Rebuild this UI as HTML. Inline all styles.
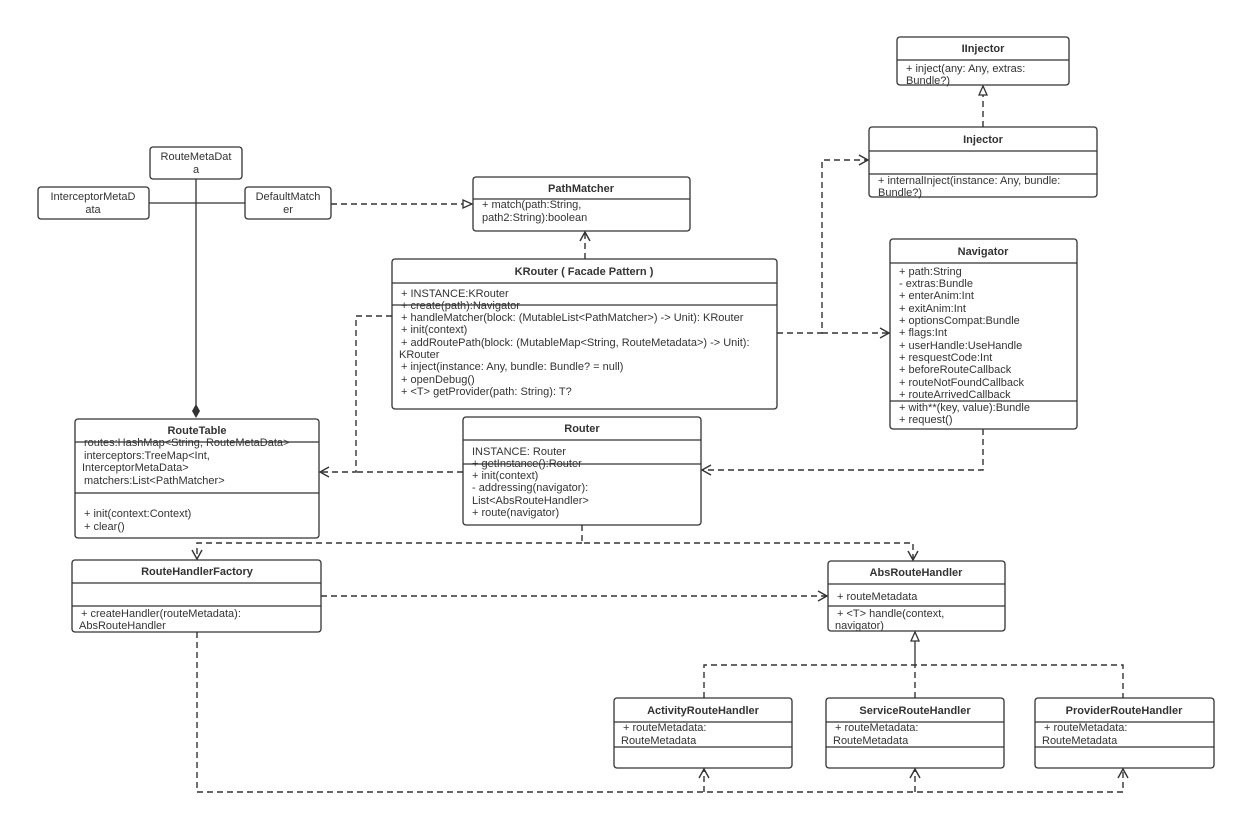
<!DOCTYPE html>
<html><head><meta charset="utf-8"><style>
body{margin:0;background:#fff}
svg{display:block}
text{font-family:"Liberation Sans",sans-serif;font-size:11px;fill:#333}
.b{font-weight:bold;font-size:11px}
.box{fill:#fff;stroke:#333;stroke-width:1.3}
.l{stroke:#333;stroke-width:1.3;fill:none}
.d{stroke:#333;stroke-width:1.4;fill:none;stroke-dasharray:6 4}
</style></head><body>
<svg width="1240" height="817" viewBox="0 0 1240 817">
<defs>
<marker id="o" markerWidth="12" markerHeight="12" refX="10" refY="6" orient="auto" markerUnits="userSpaceOnUse"><path d="M1,1 L10,6 L1,11" fill="none" stroke="#333" stroke-width="1.4"/></marker>
<marker id="t" markerWidth="12" markerHeight="12" refX="10" refY="6" orient="auto" markerUnits="userSpaceOnUse"><path d="M1,2 L10,6 L1,10 Z" fill="#fff" stroke="#333" stroke-width="1.3"/></marker>
</defs>

<path class="l" d="M196,179 V410"/>
<path d="M196,404 L200,411 L196,418 L192,411 Z" fill="#333"/>
<path class="l" d="M149,203 H245"/>
<path class="d" d="M331,204 H472" marker-end="url(#t)"/>
<path class="d" d="M585,259 V232" marker-end="url(#o)"/>
<path class="d" d="M392,316 H356 V472 H320" marker-end="url(#o)"/>
<path class="d" d="M463,472 H356"/>
<path class="d" d="M777,333 H822 V160 H868" marker-end="url(#o)"/>
<path class="d" d="M822,333 H889" marker-end="url(#o)"/>
<path class="d" d="M983,429 V470 H702" marker-end="url(#o)"/>
<path class="d" d="M582,525 V543 H913 V560" marker-end="url(#o)"/>
<path class="d" d="M582,543 H197 V559" marker-end="url(#o)"/>
<path class="d" d="M321,596 H827" marker-end="url(#o)"/>
<path class="d" d="M197,632 V792 H1123 V769" marker-end="url(#o)"/>
<path class="d" d="M704,792 V769" marker-end="url(#o)"/>
<path class="d" d="M915,792 V769" marker-end="url(#o)"/>
<path class="d" d="M704,698 V665 H1123 V698"/>
<path class="d" d="M915,698 V665"/>
<path class="l" d="M915,665 V632" marker-end="url(#t)"/>
<path class="d" d="M983,127 V86" marker-end="url(#t)"/>

<rect class="box" x="150" y="147" width="92" height="32" rx="3"/>
<text x="196" y="160" text-anchor="middle">RouteMetaDat</text><text x="196" y="173" text-anchor="middle">a</text>
<rect class="box" x="38" y="187" width="111" height="32" rx="3"/>
<text x="93" y="200" text-anchor="middle">InterceptorMetaD</text><text x="93" y="213" text-anchor="middle">ata</text>
<rect class="box" x="245" y="187" width="86" height="32" rx="3"/>
<text x="288" y="200" text-anchor="middle">DefaultMatch</text><text x="288" y="213" text-anchor="middle">er</text>

<rect class="box" x="897" y="37" width="172" height="48" rx="3"/>
<path class="l" d="M897,60 H1069"/>
<text class="b" x="983" y="52" text-anchor="middle">IInjector</text>
<text x="906" y="72">+ inject(any: Any, extras:</text><text x="906" y="84">Bundle?)</text>

<rect class="box" x="869" y="127" width="228" height="70" rx="3"/>
<path class="l" d="M869,151 H1097 M869,174 H1097"/>
<text class="b" x="983" y="143" text-anchor="middle">Injector</text>
<text x="878" y="184">+ internalInject(instance: Any, bundle:</text><text x="878" y="196">Bundle?)</text>

<rect class="box" x="473" y="177" width="217" height="54" rx="3"/>
<path class="l" d="M473,199 H690"/>
<text class="b" x="581" y="192" text-anchor="middle">PathMatcher</text>
<text x="482" y="208">+ match(path:String,</text><text x="482" y="221">path2:String):boolean</text>

<rect class="box" x="392" y="259" width="385" height="150" rx="3"/>
<path class="l" d="M392,283 H777 M392,305 H777"/>
<text class="b" x="584" y="275" text-anchor="middle">KRouter ( Facade Pattern )</text>
<text x="401" y="297">+ INSTANCE:KRouter</text>
<text x="401" y="309">+ create(path):Navigator</text>
<text x="401" y="321">+ handleMatcher(block: (MutableList&lt;PathMatcher&gt;) -&gt; Unit): KRouter</text>
<text x="401" y="333">+ init(context)</text>
<text x="401" y="346">+ addRoutePath(block: (MutableMap&lt;String, RouteMetadata&gt;) -&gt; Unit):</text>
<text x="399" y="358">KRouter</text>
<text x="401" y="370">+ inject(instance: Any, bundle: Bundle? = null)</text>
<text x="401" y="383">+ openDebug()</text>
<text x="401" y="395">+ &lt;T&gt; getProvider(path: String): T?</text>

<rect class="box" x="890" y="239" width="187" height="190" rx="3"/>
<path class="l" d="M890,263 H1077 M890,401 H1077"/>
<text class="b" x="983" y="255" text-anchor="middle">Navigator</text>
<text x="899" y="275">+ path:String</text>
<text x="899" y="287">- extras:Bundle</text>
<text x="899" y="299">+ enterAnim:Int</text>
<text x="899" y="312">+ exitAnim:Int</text>
<text x="899" y="324">+ optionsCompat:Bundle</text>
<text x="899" y="336">+ flags:Int</text>
<text x="899" y="349">+ userHandle:UseHandle</text>
<text x="899" y="361">+ resquestCode:Int</text>
<text x="899" y="373">+ beforeRouteCallback</text>
<text x="899" y="386">+ routeNotFoundCallback</text>
<text x="899" y="398">+ routeArrivedCallback</text>
<text x="899" y="411">+ with**(key, value):Bundle</text>
<text x="899" y="423">+ request()</text>

<rect class="box" x="75" y="419" width="244" height="119" rx="3"/>
<path class="l" d="M75,442 H319 M75,493 H319"/>
<text class="b" x="197" y="434" text-anchor="middle">RouteTable</text>
<text x="84" y="446">routes:HashMap&lt;String, RouteMetaData&gt;</text>
<text x="84" y="459">interceptors:TreeMap&lt;Int,</text>
<text x="82" y="471">InterceptorMetaData&gt;</text>
<text x="84" y="484">matchers:List&lt;PathMatcher&gt;</text>
<text x="84" y="517">+ init(context:Context)</text>
<text x="84" y="530">+ clear()</text>

<rect class="box" x="463" y="417" width="238" height="108" rx="3"/>
<path class="l" d="M463,440 H701 M463,464 H701"/>
<text class="b" x="582" y="432" text-anchor="middle">Router</text>
<text x="472" y="455">INSTANCE: Router</text>
<text x="472" y="467">+ getInstance():Router</text>
<text x="472" y="479">+ init(context)</text>
<text x="472" y="491">- addressing(navigator):</text>
<text x="472" y="504">List&lt;AbsRouteHandler&gt;</text>
<text x="472" y="516">+ route(navigator)</text>

<rect class="box" x="72" y="560" width="249" height="72" rx="3"/>
<path class="l" d="M72,583 H321 M72,606 H321"/>
<text class="b" x="197" y="575" text-anchor="middle">RouteHandlerFactory</text>
<text x="81" y="617">+ createHandler(routeMetadata):</text>
<text x="79" y="629">AbsRouteHandler</text>

<rect class="box" x="828" y="561" width="177" height="70" rx="3"/>
<path class="l" d="M828,584 H1005 M828,606 H1005"/>
<text class="b" x="916" y="576" text-anchor="middle">AbsRouteHandler</text>
<text x="837" y="600">+ routeMetadata</text>
<text x="837" y="617">+ &lt;T&gt; handle(context,</text>
<text x="835" y="629">navigator)</text>

<rect class="box" x="614" y="698" width="178" height="70" rx="3"/>
<path class="l" d="M614,722 H792 M614,747 H792"/>
<text class="b" x="703" y="714" text-anchor="middle">ActivityRouteHandler</text>
<text x="623" y="731">+ routeMetadata:</text><text x="621" y="744">RouteMetadata</text>

<rect class="box" x="826" y="698" width="178" height="70" rx="3"/>
<path class="l" d="M826,722 H1004 M826,747 H1004"/>
<text class="b" x="915" y="714" text-anchor="middle">ServiceRouteHandler</text>
<text x="835" y="731">+ routeMetadata:</text><text x="833" y="744">RouteMetadata</text>

<rect class="box" x="1035" y="698" width="179" height="70" rx="3"/>
<path class="l" d="M1035,722 H1214 M1035,747 H1214"/>
<text class="b" x="1124" y="714" text-anchor="middle">ProviderRouteHandler</text>
<text x="1044" y="731">+ routeMetadata:</text><text x="1042" y="744">RouteMetadata</text>
</svg>
</body></html>
